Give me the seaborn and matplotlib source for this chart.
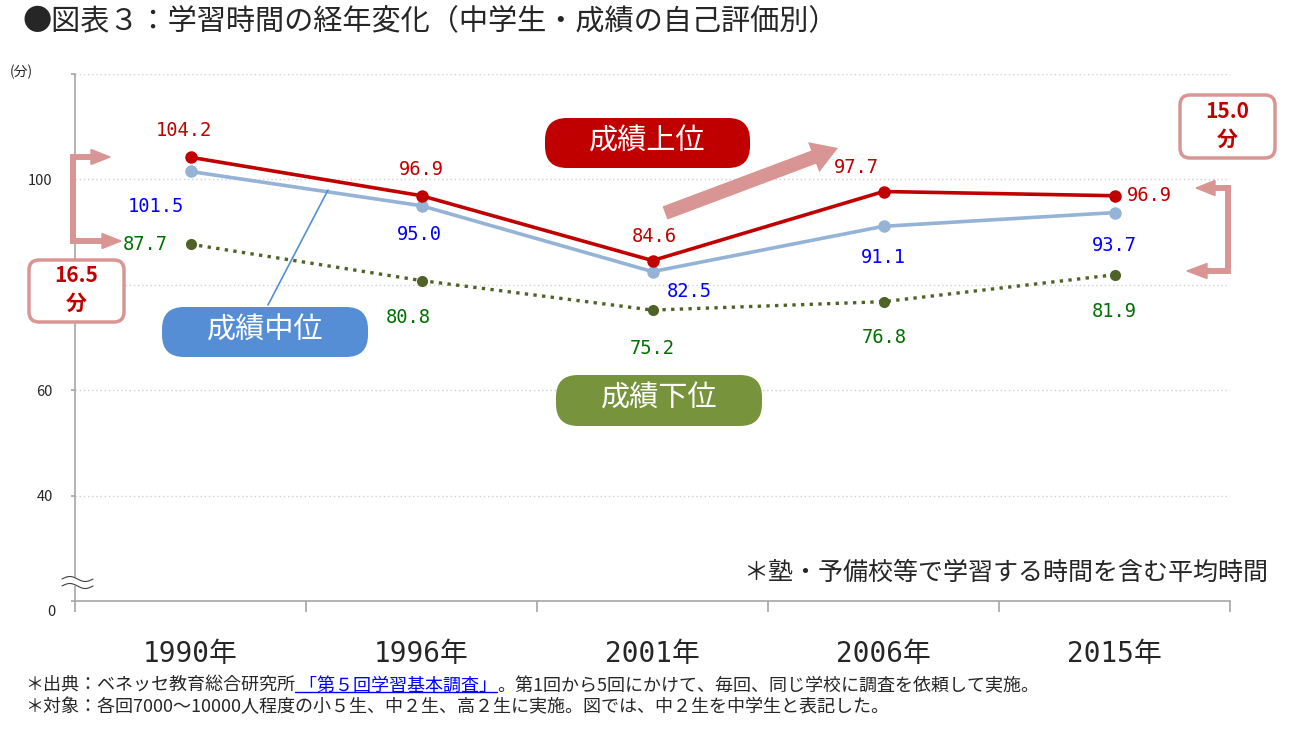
import numpy as np
import pandas as pd
import matplotlib.pyplot as plt
import seaborn as sns
from matplotlib.patches import FancyBboxPatch, FancyArrow, Polygon
from matplotlib.lines import Line2D
from matplotlib.transforms import ScaledTranslation

years = ["1990年", "1996年", "2001年", "2006年", "2015年"]
upper = [104.2, 96.9, 84.6, 97.7, 96.9]
middle = [101.5, 95.0, 82.5, 91.1, 93.7]
lower = [87.7, 80.8, 75.2, 76.8, 81.9]

# label offsets from each point, in pixels (dx, dy)
upper_off = [(-7, 27), (0, 26), (2, 24), (-27, 24), (35, 0)]
middle_off = [(-35, -35), (-2, -29), (37, -20), (0, -31), (0, -33)]
lower_off = [(-45, 0), (-13, -37), (0, -38), (1, -36), (0, -37)]

RED = "#C00000"
MID = "#95B3D7"
LOW = "#4F6228"
PINK = "#D99594"

sns.set_style("white")
plt.rcParams['font.family'] = ['Noto Sans CJK JP', 'DejaVu Sans']

W, H = 1294, 732
fig = plt.figure(figsize=(W / 100, H / 100), dpi=100)
ax = fig.add_axes([75 / W, 1 - 601 / H, 1155 / W, 527 / H])

df = pd.DataFrame({"pos": np.arange(len(years)), "upper": upper,
                   "middle": middle, "lower": lower})

sns.lineplot(data=df, x="pos", y="middle", ax=ax, color=MID, lw=2.6,
             marker="o", markersize=9, markeredgewidth=0)
sns.lineplot(data=df, x="pos", y="upper", ax=ax, color=RED, lw=2.6,
             marker="o", markersize=9, markeredgewidth=0)
sns.lineplot(data=df, x="pos", y="lower", ax=ax, color=LOW, lw=2.4,
             linestyle=(0, (1, 1.6)), marker="o", markersize=8, markeredgewidth=0)

for vals, offs, col in [(upper, upper_off, RED), (middle, middle_off, "#0000FF"),
                        (lower, lower_off, "#007000")]:
    for xi, v, (dx, dy) in zip(df["pos"], vals, offs):
        ax.annotate(f"{v:.1f}", (xi, v), xytext=(dx, dy), textcoords="offset pixels",
                    ha="center", va="center", color=col, fontsize=13.5,
                    family="DejaVu Sans Mono")

ax.set_xlim(-0.5, 4.5)
ax.set_ylim(20, 120)
ax.set_yticks([20, 40, 60, 80, 100, 120])
ax.set_yticklabels(["0", "40", "60", "", "100", ""], fontsize=10.5)
ax.set_xticks(df["pos"])
ax.set_xticklabels(years, fontsize=20, family=["DejaVu Sans Mono", "Noto Sans CJK JP"])
ax.set_xticks(np.arange(-0.5, 5, 1), minor=True)
ax.tick_params(axis="x", which="major", bottom=True, length=0, pad=28)
ax.tick_params(axis="x", which="minor", bottom=True, length=8, width=1.2,
               color="#A6A6A6", direction="out")
ax.tick_params(axis="y", left=True, length=3, width=1.2, color="#A6A6A6", pad=13,
               direction="out")
zero = ax.get_yticklabels()[0]
zero.set_transform(zero.get_transform() + ScaledTranslation(0.03, -0.1, fig.dpi_scale_trans))
ax.set_xlabel("")
ax.set_ylabel("")
ax.yaxis.grid(True, color="#D0D0D0", linestyle=(0, (1, 2)), lw=1)
ax.xaxis.grid(False)
for s in ["top", "right"]:
    ax.spines[s].set_visible(False)
for s in ["left", "bottom"]:
    ax.spines[s].set_color("#A6A6A6")
    ax.spines[s].set_linewidth(1.2)

# overlay in pixel coordinates for annotations
ov = fig.add_axes([0, 0, 1, 1])
ov.set_xlim(0, W)
ov.set_ylim(H, 0)
ov.axis("off")


def pill(x0, y0, x1, y1, fc, ec="none", lw=0, r=22):
    ov.add_patch(FancyBboxPatch((x0, y0), x1 - x0, y1 - y0,
                                boxstyle=f"round,pad=0,rounding_size={r}",
                                fc=fc, ec=ec, lw=lw))


pill(545, 118, 750, 168, RED)
ov.text(647, 142, "成績上位", color="white", fontsize=21, ha="center", va="center")
ov.plot([268, 328], [305, 190], color="#558ED5", lw=1.2)
pill(162, 307, 368, 357, "#558ED5")
ov.text(265, 331, "成績中位", color="white", fontsize=21, ha="center", va="center")
pill(556, 375, 762, 426, "#77933C")
ov.text(659, 399, "成績下位", color="white", fontsize=21, ha="center", va="center")

pill(29, 260, 124, 322, "white", PINK, 2.5, 10)
ov.text(76, 276, "16.5", color=RED, fontsize=15, weight="bold", ha="center", va="center")
ov.text(76, 303, "分", color=RED, fontsize=15, weight="bold", ha="center", va="center")
pill(1180, 95, 1275, 158, "white", PINK, 2.5, 10)
ov.text(1227, 112, "15.0", color=RED, fontsize=15, weight="bold", ha="center", va="center")
ov.text(1227, 139, "分", color=RED, fontsize=15, weight="bold", ha="center", va="center")

# brackets
ov.plot([93, 73, 73, 104], [157, 157, 241, 241], color=PINK, lw=4.3, solid_joinstyle="miter")
ov.add_patch(Polygon([(91, 149.5), (110, 157), (91, 164.5)], color=PINK))
ov.add_patch(Polygon([(102, 233.5), (121, 241), (102, 248.5)], color=PINK))
ov.plot([1213, 1228, 1228, 1205], [188, 188, 271, 271], color=PINK, lw=4.3, solid_joinstyle="miter")
ov.add_patch(Polygon([(1215, 180.5), (1196, 188), (1215, 195.5)], color=PINK))
ov.add_patch(Polygon([(1207, 263.5), (1187, 271), (1207, 278.5)], color=PINK))

ov.add_patch(FancyArrow(665, 213, 173, -65, width=14, head_width=32, head_length=26,
                        length_includes_head=True, color=PINK, lw=0))

# axis break mark
bx = np.linspace(62, 93, 40)
wave = 2.5 * np.sin((bx - 62) / 31 * 2 * np.pi)
ov.fill_between(bx, 579 - wave, 586 - wave, color="white", zorder=5)
ov.plot(bx, 579 - wave, color="#404040", lw=0.8, zorder=6)
ov.plot(bx, 586 - wave, color="#404040", lw=0.8, zorder=6)

ov.text(1268, 573, "＊塾・予備校等で学習する時間を含む平均時間", fontsize=18, ha="right", va="center")
ov.text(10, 72, "(分)", fontsize=10, va="center")
ov.text(22, 22, "●図表３：学習時間の経年変化（中学生・成績の自己評価別）", fontsize=21, va="center")

# footnotes
t1 = ov.text(25, 686, "＊出典：ベネッセ教育総合研究所", fontsize=13, va="center")
t2 = ov.annotate(" 「第５回学習基本調査」", xy=(1, 0), xycoords=t1, va="bottom",
                 ha="left", color="#0000FF", fontsize=13)
t3 = ov.annotate("。第1回から5回にかけて、毎回、同じ学校に調査を依頼して実施。", xy=(1, 0),
                 xycoords=t2, va="bottom", ha="left", fontsize=13)
ov.text(25, 707, "＊対象：各回7000～10000人程度の小５生、中２生、高２生に実施。図では、中２生を中学生と表記した。",
        fontsize=13, va="center")

fig.canvas.draw()
bb = t2.get_window_extent()
fig.add_artist(Line2D([bb.x0 / W, bb.x1 / W], [(bb.y0 + 3) / H] * 2,
                      color="#0000FF", lw=1, transform=fig.transFigure))

fig.savefig("out.png", dpi=100)
